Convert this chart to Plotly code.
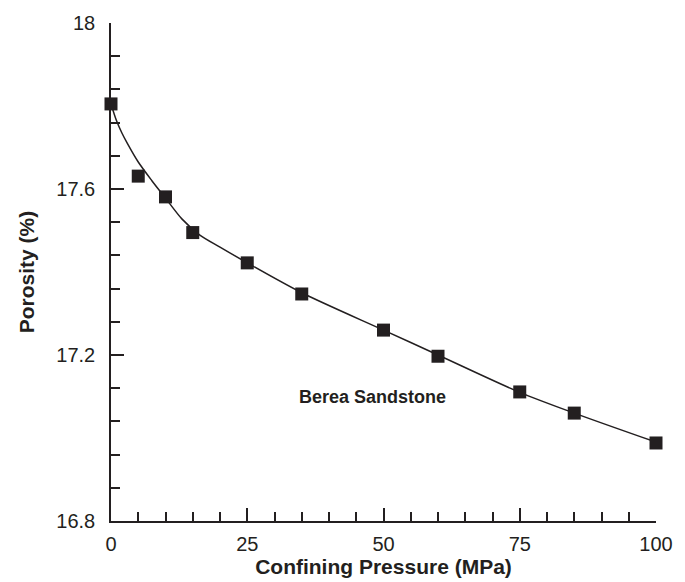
import plotly.graph_objects as go

# Measured data (markers)
pressure = [0, 5, 10, 15, 25, 35, 50, 60, 75, 85, 100]
porosity = [17.805, 17.631, 17.581, 17.495, 17.422, 17.347, 17.260, 17.197, 17.111, 17.060, 16.988]

# Fitted curve
curve_x = [0, 1, 2, 3, 5, 7.5, 10, 13, 16.3, 20, 25, 35, 50, 60, 75, 85, 100]
curve_y = [17.805, 17.765, 17.735, 17.71, 17.665, 17.62, 17.578, 17.528, 17.489, 17.46, 17.422,
           17.35, 17.26, 17.20, 17.11, 17.06, 16.99]

y_tickvals = [16.8, 17.2, 17.6, 18.0]
y_ticktext = ["16.8", "17.2", "17.6", "18"]
x_tickvals = [0, 25, 50, 75, 100]
x_ticktext = ["0", "25", "50", "75", "100"]

annotation_text = "Berea Sandstone"
x_title = "Confining Pressure (MPa)"
y_title = "Porosity (%)"

ink = "#231f20"
font_family = "Liberation Sans, Arial, sans-serif"

fig = go.Figure()
fig.add_trace(go.Scatter(x=curve_x, y=curve_y, mode="lines",
                         line=dict(color=ink, width=1.5, shape="spline", smoothing=0.8),
                         hoverinfo="skip", showlegend=False, cliponaxis=False))
fig.add_trace(go.Scatter(x=pressure, y=porosity, mode="markers",
                         marker=dict(symbol="square", size=13, color=ink),
                         showlegend=False, cliponaxis=False))

fig.add_annotation(x=47.9, y=17.099, text="<b>%s</b>" % annotation_text, showarrow=False,
                   font=dict(family=font_family, size=18, color=ink), xanchor="center", yanchor="middle")

fig.update_layout(
    width=685, height=582,
    margin=dict(l=111, r=29, t=23, b=61),
    paper_bgcolor="white", plot_bgcolor="white",
    font=dict(family=font_family, size=20, color=ink),
    xaxis=dict(range=[0, 100], tickmode="array", tickvals=x_tickvals, ticktext=x_ticktext,
               ticks="inside", ticklen=13, tickwidth=1.5, automargin=False,
               tickcolor=ink, showline=True, linecolor=ink, linewidth=1.5, mirror=False,
               showgrid=False, zeroline=False, ticklabelstandoff=4,
               minor=dict(dtick=5, ticks="inside", ticklen=9, tickwidth=1.5, tickcolor=ink, showgrid=False),
               title=dict(text="<b>%s</b>" % x_title, font=dict(size=21), standoff=6)),
    yaxis=dict(range=[16.8, 18.0], tickmode="array", tickvals=y_tickvals, ticktext=y_ticktext,
               ticks="inside", ticklen=13, tickwidth=1.5, automargin=False,
               tickcolor=ink, showline=True, linecolor=ink, linewidth=1.5, mirror=False,
               showgrid=False, zeroline=False, ticklabelstandoff=10,
               minor=dict(tick0=16.8, dtick=0.08, ticks="inside", ticklen=9, tickwidth=1.5, tickcolor=ink, showgrid=False),
               title=dict(text="<b>%s</b>" % y_title, font=dict(size=21), standoff=16)),
)

fig.write_html("out.html")
